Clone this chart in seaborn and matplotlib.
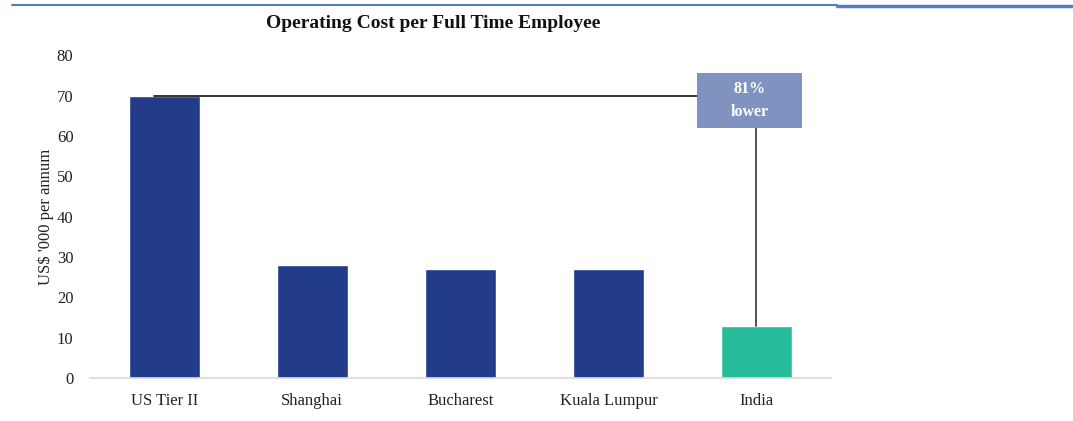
import matplotlib
matplotlib.use("Agg")
import matplotlib.pyplot as plt
import seaborn as sns
import pandas as pd
from matplotlib.patches import Rectangle
from matplotlib.lines import Line2D

# Data
cities = ["US Tier II", "Shanghai", "Bucharest", "Kuala Lumpur", "India"]
cost_k_usd = [70, 28, 27, 27, 13]
highlight = ["base", "base", "base", "base", "india"]
y_ticks = [0, 10, 20, 30, 40, 50, 60, 70, 80]

NAVY = "#223C8A"
TEAL = "#27BC99"
BOX = "#8092C0"

sns.set_theme(style="white")
plt.rcParams["font.family"] = ["Liberation Serif", "DejaVu Serif"]

df = pd.DataFrame({"city": cities, "cost": cost_k_usd, "group": highlight})

fig = plt.figure(figsize=(10.73, 4.21), dpi=100)
ax = fig.add_axes([0.084, 0.102, 0.69, 0.767])

sns.barplot(data=df, x="city", y="cost", hue="group",
            palette={"base": NAVY, "india": TEAL}, dodge=False,
            width=0.48, legend=False, ax=ax, saturation=1)

ax.set_ylim(0, 80)
ax.set_xlim(-0.5, 4.5)
ax.set_yticks(y_ticks)
ax.set_yticklabels([str(t) for t in y_ticks])
ax.tick_params(axis="both", length=0, labelsize=12, colors="#222222")
ax.tick_params(axis="x", pad=11)
ax.tick_params(axis="y", pad=12)
ax.set_xlabel("")
ax.set_ylabel("US$ '000 per annum", fontsize=12, color="#222222", labelpad=2)

for side in ["top", "right", "left"]:
    ax.spines[side].set_visible(False)
ax.spines["bottom"].set_color("#d9d9d9")
ax.spines["bottom"].set_linewidth(1.2)

# Reference line from the US level to the annotation box
us_val = cost_k_usd[0]
india_val = cost_k_usd[-1]
box_x0, box_x1 = 3.6, 4.31
box_y0, box_y1 = 61.9, 75.7
ax.plot([-0.07, box_x0], [us_val, us_val], color="#111111", lw=1.2, zorder=3)
ax.plot([4.0, 4.0], [india_val, box_y0], color="#333333", lw=1.2, zorder=3)
ax.add_patch(Rectangle((box_x0, box_y0), box_x1 - box_x0, box_y1 - box_y0,
                       facecolor=BOX, edgecolor="none", zorder=4))
pct = round((1 - india_val / us_val) * 100)
ax.text((box_x0 + box_x1) / 2, (box_y0 + box_y1) / 2, f"{pct}%\nlower",
        ha="center", va="center", color="white", fontsize=11.5,
        fontweight="bold", linespacing=1.55, zorder=5)

fig.text(0.404, 0.945, "Operating Cost per Full Time Employee",
         ha="center", va="center", fontsize=14, fontweight="bold",
         color="#111111")

# Header rule
fig.add_artist(Line2D([0.011, 0.78], [0.988, 0.988], color="#4F81BD", lw=1.5,
                      transform=fig.transFigure))
fig.add_artist(Line2D([0.78, 1.0], [0.986, 0.986], color="#4F81BD", lw=2.5,
                      transform=fig.transFigure))

fig.savefig("out.png", dpi=100)
